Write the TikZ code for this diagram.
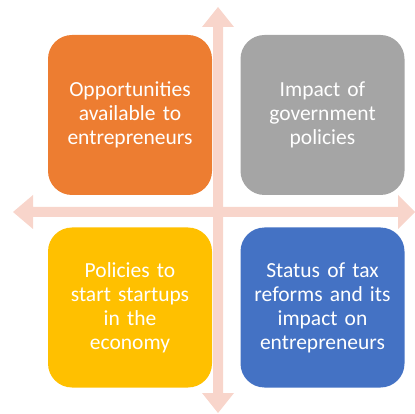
\documentclass[tikz,border=0pt]{standalone}
\usepackage{fontspec}
\setmainfont{Carlito}
\definecolor{axispink}{HTML}{F8D5CB}
\definecolor{qorange}{HTML}{ED7D31}
\definecolor{qgray}{HTML}{A5A5A5}
\definecolor{qyellow}{HTML}{FFC000}
\definecolor{qblue}{HTML}{4472C4}
\begin{document}
\begin{tikzpicture}[x=1pt,y=-1pt,
  quad/.style={rounded corners=24pt, minimum width=164pt, minimum height=160pt,
    inner sep=0pt, text=white, align=center, text width=155pt,
    font=\fontsize{21.5}{24}\selectfont},
  axis/.style={fill=axispink, draw=none}]
\useasboundingbox (0,0) rectangle (415,414);
% two-headed axes behind the quadrants
\fill[axis] (218,7) -- (234,27) -- (223,27) -- (223,393) -- (234,393) -- (218,413)
  -- (202,393) -- (213,393) -- (213,27) -- (202,27) -- cycle;
\fill[axis] (13,212) -- (33,195) -- (33,207) -- (398,207) -- (398,195) -- (415,212)
  -- (398,229) -- (398,217) -- (33,217) -- (33,229) -- cycle;
% quadrant boxes
\node[quad, fill=qorange] (opp) at (130,115) {Opportunities\\available to\\entrepreneurs};
\node[quad, fill=qgray] (gov) at (322.5,115) {Impact of\\government\\policies};
\node[quad, fill=qyellow] (pol) at (130,307.5) {Policies to\\start startups\\in the\\economy};
\node[quad, fill=qblue] (tax) at (322.5,307.5) {Status of tax\\reforms and its\\impact on\\entrepreneurs};
\end{tikzpicture}
\end{document}
